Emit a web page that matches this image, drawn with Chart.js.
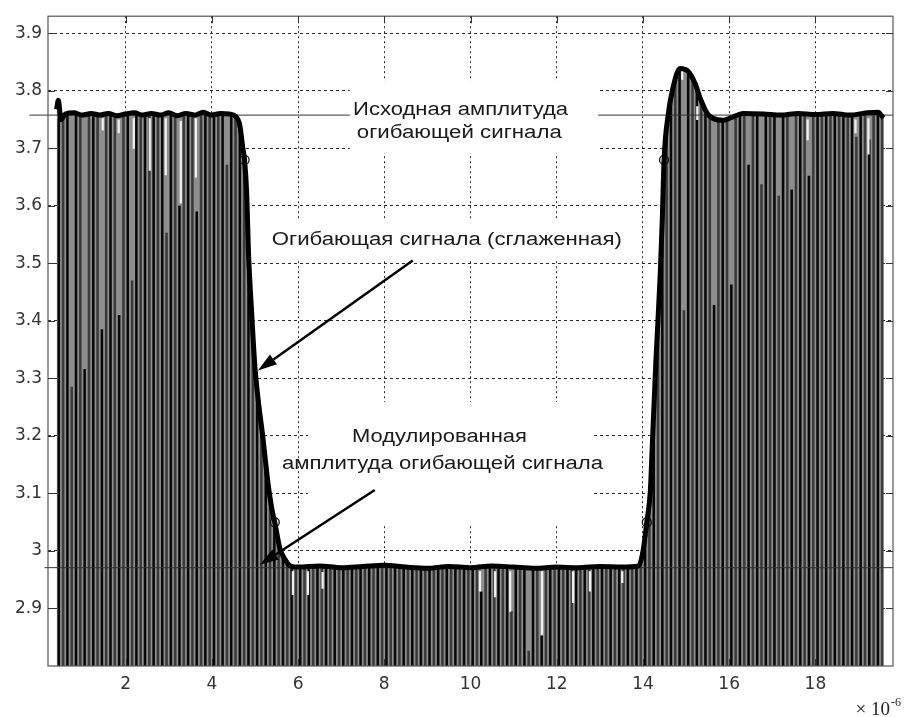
<!DOCTYPE html>
<html>
<head>
<meta charset="utf-8">
<script src="https://cdn.jsdelivr.net/npm/chart.js@4.4.1/dist/chart.umd.min.js"></script>
<style>
  html, body { margin: 0; padding: 0; background: #fff; }
  canvas { display: block; }
</style>
</head>
<body>
<canvas id="envelopeChart" width="910" height="717"></canvas>
<script>
// time in microseconds (axis multiplier x 10^-6)
const xTicks = [2, 4, 6, 8, 10, 12, 14, 16, 18];
const yTicks = [2.9, 3, 3.1, 3.2, 3.3, 3.4, 3.5, 3.6, 3.7, 3.8, 3.9];

// smoothed envelope of the signal
const envX = [
  0.40, 0.44, 0.50, 0.60, 0.80, 1.00, 1.20, 1.40, 1.60, 1.80,
  2.00, 2.20, 2.40, 2.60, 2.80, 3.00, 3.20, 3.40, 3.60, 3.80,
  4.00, 4.20, 4.40, 4.55, 4.65, 4.72, 4.76, 4.81, 4.85, 4.92,
  5.00, 5.08, 5.18, 5.30, 5.40, 5.46, 5.58, 5.70, 5.82, 6.00,
  6.50, 7.00, 7.50, 8.00, 8.50, 9.00, 9.50, 10.00, 10.50, 11.00,
  11.50, 12.00, 12.50, 13.00, 13.50, 13.90, 14.00, 14.09, 14.17, 14.21,
  14.30, 14.40, 14.45, 14.49, 14.59, 14.68, 14.86, 15.05, 15.21, 15.33,
  15.49, 15.61, 15.86, 16.03, 16.33, 16.80, 17.20, 17.60, 18.00, 18.40,
  18.80, 19.20, 19.45, 19.58
];
const envY = [
  3.768, 3.784, 3.750, 3.760, 3.762, 3.758, 3.761, 3.758, 3.761, 3.757,
  3.760, 3.762, 3.758, 3.761, 3.758, 3.762, 3.757, 3.761, 3.758, 3.763,
  3.758, 3.761, 3.760, 3.756, 3.740, 3.700, 3.680, 3.620, 3.520, 3.420,
  3.320, 3.260, 3.200, 3.120, 3.070, 3.050, 3.004, 2.985, 2.974, 2.972,
  2.974, 2.971, 2.973, 2.975, 2.972, 2.970, 2.973, 2.971, 2.974, 2.972,
  2.970, 2.972, 2.971, 2.973, 2.972, 2.974, 2.999, 3.051, 3.103, 3.172,
  3.330, 3.480, 3.580, 3.680, 3.761, 3.800, 3.839, 3.834, 3.813, 3.787,
  3.761, 3.753, 3.749, 3.753, 3.761, 3.760, 3.758, 3.761, 3.759, 3.761,
  3.758, 3.762, 3.763, 3.753
];

// carrier strokes: one per period, starting at 0.45 us, 0.1 us apart
const strokeStart = 0.45;
const strokeStep = 0.1;
const strokeTops = [
  // 0.45 .. 4.55
  3.752, 3.756, 3.760, 3.285, 3.761, 3.758, 3.316, 3.760, 3.762, 3.759,
  3.385, 3.760, 3.761, 3.758, 3.410, 3.757, 3.760, 3.470, 3.762, 3.759,
  3.758, 3.761, 3.760, 3.758, 3.759, 3.553, 3.762, 3.760, 3.600, 3.758,
  3.761, 3.759, 3.590, 3.763, 3.760, 3.758, 3.761, 3.760, 3.762, 3.671,
  3.760, 3.756,
  // 4.65 .. 5.75
  3.740, 3.685, 3.520, 3.360, 3.280, 3.220, 3.147, 3.095, 3.053, 3.015,
  2.993, 2.980,
  // 5.85 .. 13.95
  2.975, 2.973, 2.972, 2.972, 2.973, 2.974, 2.974, 2.973, 2.972, 2.971,
  2.971, 2.971, 2.972, 2.972, 2.973, 2.973, 2.973, 2.972, 2.973, 2.974,
  2.975, 2.975, 2.974, 2.973, 2.972, 2.972, 2.972, 2.971, 2.971, 2.970,
  2.970, 2.970, 2.971, 2.972, 2.973, 2.973, 2.972, 2.972, 2.971, 2.971,
  2.971, 2.971, 2.972, 2.973, 2.929, 2.974, 2.974, 2.973, 2.973, 2.972,
  2.972, 2.895, 2.971, 2.971, 2.970, 2.826, 2.970, 2.971, 2.852, 2.971,
  2.972, 2.972, 2.972, 2.972, 2.971, 2.971, 2.971, 2.971, 2.972, 2.972,
  2.972, 2.973, 2.973, 2.973, 2.972, 2.972, 2.972, 2.972, 2.973, 2.973,
  2.974, 2.976,
  // 14.05 .. 14.75
  3.028, 3.090, 3.240, 3.405, 3.580, 3.730, 3.787, 3.815,
  // 14.85 .. 16.35
  3.838, 3.418, 3.834, 3.822, 3.806, 3.784, 3.766, 3.757, 3.427, 3.750,
  3.749, 3.751, 3.463, 3.756, 3.759, 3.761,
  // 16.45 .. 19.55
  3.671, 3.762, 3.760, 3.637, 3.761, 3.760, 3.759, 3.617, 3.760, 3.761,
  3.628, 3.760, 3.758, 3.760, 3.652, 3.761, 3.762, 3.760, 3.759, 3.760,
  3.761, 3.760, 3.758, 3.759, 3.761, 3.720, 3.762, 3.760, 3.715, 3.761,
  3.762, 3.756
];

// light gaps between strokes (x, lower and upper end)
const gapX = [1.47, 1.84, 2.19, 2.56, 2.93, 3.28, 3.63, 5.88, 6.23, 6.57,
  10.22, 10.57, 10.92, 11.66, 12.38, 12.77, 13.52, 14.91, 15.26, 17.82, 18.93, 19.23];
const gapLow = [3.732, 3.727, 3.700, 3.662, 3.654, 3.605, 3.650, 2.924, 2.924, 2.935,
  2.930, 2.920, 2.895, 2.855, 2.910, 2.930, 2.945, 3.820, 3.750, 3.715, 3.727, 3.690];
const gapHigh = [3.752, 3.750, 3.752, 3.752, 3.752, 3.747, 3.752, 2.964, 2.964, 2.963,
  2.964, 2.964, 2.964, 2.964, 2.964, 2.964, 2.964, 3.834, 3.773, 3.750, 3.750, 3.752];

// original and modulated envelope levels
const levelHigh = 3.758;
const levelLow = 2.971;
const levelHighSpan = [-0.23, 19.8];
const levelLowSpan = [0.12, 19.8];

// points marked on the envelope edges
const markX = [4.76, 5.46, 14.09, 14.49];
const markY = [3.68, 3.05, 3.05, 3.68];

// captions (data coordinates) and their white backing
const captions = [
  { text: 'Исходная амплитуда', x: 9.77, y: 3.767, w: 215 },
  { text: 'огибающей сигнала', x: 9.74, y: 3.727, w: 205 },
  { text: 'Огибающая сигнала (сглаженная)', x: 9.45, y: 3.541, w: 350 },
  { text: 'Модулированная', x: 9.28, y: 3.198, w: 175 },
  { text: 'амплитуда огибающей сигнала', x: 9.35, y: 3.151, w: 321 }
];
const captionBoxes = [
  { x0: 7.20, x1: 12.96, y0: 3.692, y1: 3.817 },
  { x0: 5.23, x1: 13.70, y0: 3.508, y1: 3.574 },
  { x0: 6.23, x1: 12.82, y0: 3.046, y1: 3.259 }
];
const arrows = [
  { from: [8.66, 3.505], to: [5.07, 3.314] },
  { from: [7.78, 3.106], to: [5.11, 2.976] }
];

const toPoints = (xs, ys) => xs.map((x, i) => ({ x: x, y: ys[i] }));
const strokes = strokeTops.map((top, i) => ({ x: strokeStart + i * strokeStep, y: top }));
const gaps = gapX.map((x, i) => ({ x: x, y: [gapLow[i], gapHigh[i]] }));

const annotate = {
  id: 'annotate',
  afterDraw(chart) {
    const { ctx, chartArea: area, scales: { x, y } } = chart;
    ctx.save();

    // white backing behind the captions
    ctx.fillStyle = '#fff';
    captionBoxes.forEach(b => {
      const l = x.getPixelForValue(b.x0), r = x.getPixelForValue(b.x1);
      const t = y.getPixelForValue(b.y1), bt = y.getPixelForValue(b.y0);
      ctx.fillRect(l, t, r - l, bt - t);
    });

    // captions, stretched to their width
    ctx.fillStyle = '#1a1a1a';
    ctx.font = '18px "Liberation Sans", Arial, sans-serif';
    ctx.textAlign = 'center';
    ctx.textBaseline = 'middle';
    captions.forEach(c => {
      const sx = c.w / ctx.measureText(c.text).width;
      ctx.save();
      ctx.translate(x.getPixelForValue(c.x), y.getPixelForValue(c.y));
      ctx.scale(sx, 1);
      ctx.fillText(c.text, 0, 0);
      ctx.restore();
    });

    // arrows
    ctx.strokeStyle = '#000';
    ctx.fillStyle = '#000';
    ctx.lineWidth = 2.5;
    arrows.forEach(a => {
      const x0 = x.getPixelForValue(a.from[0]), y0 = y.getPixelForValue(a.from[1]);
      const x1 = x.getPixelForValue(a.to[0]), y1 = y.getPixelForValue(a.to[1]);
      const ang = Math.atan2(y1 - y0, x1 - x0);
      const len = 19, half = 6;
      const bx = x1 - len * Math.cos(ang), by = y1 - len * Math.sin(ang);
      ctx.beginPath();
      ctx.moveTo(x0, y0);
      ctx.lineTo(bx, by);
      ctx.stroke();
      ctx.beginPath();
      ctx.moveTo(x1, y1);
      ctx.lineTo(bx + half * Math.sin(ang), by - half * Math.cos(ang));
      ctx.lineTo(bx - half * Math.sin(ang), by + half * Math.cos(ang));
      ctx.closePath();
      ctx.fill();
    });

    // axes box with inner tick marks
    ctx.strokeStyle = '#555';
    ctx.lineWidth = 1.2;
    ctx.strokeRect(area.left, area.top, area.right - area.left, area.bottom - area.top);
    ctx.strokeStyle = '#333';
    ctx.lineWidth = 1;
    ctx.beginPath();
    xTicks.forEach(v => {
      const px = Math.round(x.getPixelForValue(v)) + 0.5;
      ctx.moveTo(px, area.bottom); ctx.lineTo(px, area.bottom - 7);
      ctx.moveTo(px, area.top); ctx.lineTo(px, area.top + 7);
    });
    yTicks.forEach(v => {
      const py = Math.round(y.getPixelForValue(v)) + 0.5;
      ctx.moveTo(area.left, py); ctx.lineTo(area.left + 7, py);
      ctx.moveTo(area.right, py); ctx.lineTo(area.right - 7, py);
    });
    ctx.stroke();

    // axis multiplier
    ctx.fillStyle = '#222';
    ctx.textBaseline = 'alphabetic';
    ctx.textAlign = 'right';
    ctx.font = '19px "Liberation Serif", "Times New Roman", serif';
    ctx.fillText('× 10', area.right - 3, 715);
    ctx.textAlign = 'left';
    ctx.font = '12px "Liberation Serif", "Times New Roman", serif';
    ctx.fillText('-6', area.right - 2, 706);

    ctx.restore();
  }
};

const gridStyle = {
  color: '#2a2a2a',
  lineWidth: 1,
  drawTicks: false,
  offset: false
};

new Chart(document.getElementById('envelopeChart').getContext('2d'), {
  type: 'line',
  data: {
    datasets: [
      {
        label: 'Огибающая',
        data: toPoints(envX, envY),
        borderColor: '#000',
        borderWidth: 5,
        backgroundColor: '#8e8e8e',
        fill: 'start',
        pointRadius: 0,
        cubicInterpolationMode: 'monotone',
        order: 0
      },
      {
        label: 'Отметки',
        data: toPoints(markX, markY),
        showLine: false,
        pointRadius: 4.5,
        pointBorderWidth: 1.3,
        pointBorderColor: '#111',
        pointBackgroundColor: 'rgba(0,0,0,0)',
        order: 0
      },
      {
        label: 'Исходный уровень',
        data: levelHighSpan.map(v => ({ x: v, y: levelHigh })),
        borderColor: '#333',
        borderWidth: 1,
        pointRadius: 0,
        clip: false,
        order: 1
      },
      {
        label: 'Модулированный уровень',
        data: levelLowSpan.map(v => ({ x: v, y: levelLow })),
        borderColor: '#333',
        borderWidth: 1,
        pointRadius: 0,
        clip: false,
        order: 1
      },
      {
        type: 'bar',
        label: 'Промежутки',
        data: gaps,
        backgroundColor: '#f0f0f0',
        barThickness: 1.6,
        grouped: false,
        order: 2
      },
      {
        type: 'bar',
        label: 'Сигнал',
        data: strokes,
        backgroundColor: c => (c.dataIndex % 2 ? '#3a3a3a' : '#080808'),
        barThickness: 1.9,
        grouped: false,
        order: 3
      }
    ]
  },
  options: {
    responsive: false,
    animation: false,
    events: [],
    layout: { padding: { top: 12, right: 17, left: 0, bottom: 0 } },
    scales: {
      x: {
        type: 'linear',
        min: 0.2,
        max: 19.8,
        offset: false,
        z: 1,
        afterBuildTicks: s => { s.ticks = xTicks.map(v => ({ value: v })); },
        afterFit: s => { s.height = 51; },
        grid: Object.assign({}, gridStyle),
        border: { display: false, dash: [2, 3] },
        ticks: {
          padding: 8,
          color: '#333',
          font: { family: '"DejaVu Sans", sans-serif', size: 17 },
          maxRotation: 0,
          autoSkip: false
        }
      },
      y: {
        type: 'linear',
        min: 2.8,
        max: 3.93,
        beginAtZero: false,
        z: 1,
        afterBuildTicks: s => { s.ticks = yTicks.map(v => ({ value: v })); },
        afterFit: s => { s.width = 48; },
        grid: Object.assign({}, gridStyle),
        border: { display: false, dash: [3, 3] },
        ticks: {
          padding: 6,
          color: '#333',
          font: { family: '"DejaVu Sans", sans-serif', size: 17 },
          callback: v => String(v)
        }
      }
    },
    plugins: {
      legend: { display: false },
      tooltip: { enabled: false },
      filler: { drawTime: 'beforeDatasetsDraw' }
    }
  },
  plugins: [annotate]
});
</script>
</body>
</html>
